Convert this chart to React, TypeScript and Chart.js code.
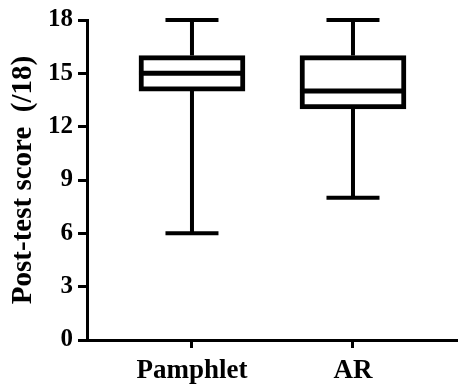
import React, { useEffect, useRef } from 'react';
import { Chart, registerables } from 'chart.js';

Chart.register(...registerables);

const categories = ['Pamphlet', 'AR'];
const minValues = [6, 8];
const q1Values = [14, 13];
const medianValues = [15, 14];
const q3Values = [16, 16];
const maxValues = [18, 18];
const yTickValues = [0, 3, 6, 9, 12, 15, 18];
const yTitle = 'Post-test score  (/18)';

const FONT = "'Liberation Serif', 'Times New Roman', serif";

const whiskerPlugin = {
  id: 'whiskers',
  afterDatasetsDraw(chart: any) {
    const { ctx } = chart;
    const yScale = chart.scales.y;
    const meta = chart.getDatasetMeta(0);
    ctx.save();
    ctx.strokeStyle = '#000';
    ctx.lineCap = 'butt';
    meta.data.forEach((bar: any, i: number) => {
      const { x, width } = bar.getProps(['x', 'width'], true);
      const yMin = yScale.getPixelForValue(minValues[i]);
      const yMax = yScale.getPixelForValue(maxValues[i]);
      const yQ1 = yScale.getPixelForValue(q1Values[i]);
      const yQ3 = yScale.getPixelForValue(q3Values[i]);
      const yMed = yScale.getPixelForValue(medianValues[i]);
      const cap = width / 4;
      ctx.lineWidth = 4;
      ctx.beginPath();
      ctx.moveTo(x, yQ3);
      ctx.lineTo(x, yMax);
      ctx.moveTo(x - cap, yMax);
      ctx.lineTo(x + cap, yMax);
      ctx.moveTo(x, yQ1);
      ctx.lineTo(x, yMin);
      ctx.moveTo(x - cap, yMin);
      ctx.lineTo(x + cap, yMin);
      ctx.stroke();
      ctx.lineWidth = 5;
      ctx.beginPath();
      ctx.moveTo(x - width / 2, yMed);
      ctx.lineTo(x + width / 2, yMed);
      ctx.stroke();
    });
    ctx.restore();
  },
};

export default function App() {
  const canvasRef = useRef<HTMLCanvasElement | null>(null);

  useEffect(() => {
    if (!canvasRef.current) return;
    const chart = new Chart(canvasRef.current, {
      type: 'bar',
      data: {
        datasets: [
          {
            data: categories.map((_, i) => ({ x: i + 1, y: [q1Values[i], q3Values[i]] })) as any,
            backgroundColor: '#ffffff',
            borderColor: '#000000',
            borderWidth: 5,
            borderSkipped: false,
            barThickness: 106,
          },
        ],
      },
      options: {
        animation: false,
        responsive: false,
        events: [],
        layout: { padding: { top: 17, right: 1, bottom: 0, left: 0 } },
        plugins: {
          legend: { display: false },
          tooltip: { enabled: false },
        },
        scales: {
          x: {
            type: 'linear',
            bounds: 'data',
            offset: false,
            min: 0.348,
            max: 2.646,
            afterBuildTicks: (s: any) => {
              s.ticks = categories.map((_, i) => ({ value: i + 1 }));
            },
            afterFit: (s: any) => {
              s.height = 44;
            },
            ticks: {
              autoSkip: false,
              maxRotation: 0,
              padding: 7,
              color: '#000',
              font: { family: FONT, size: 27, weight: 'bold' },
              callback: (v: any) => categories[Math.round(Number(v)) - 1] ?? '',
            },
            grid: {
              display: true,
              offset: false,
              drawOnChartArea: false,
              drawTicks: true,
              tickLength: 8,
              lineWidth: 3,
              color: '#000',
            },
            border: { display: true, width: 3, color: '#000' },
          },
          y: {
            type: 'linear',
            min: 0,
            max: 18,
            afterBuildTicks: (s: any) => {
              s.ticks = yTickValues.map((v) => ({ value: v }));
            },
            afterFit: (s: any) => {
              s.width = 87;
            },
            ticks: {
              padding: 5,
              color: '#000',
              font: { family: FONT, size: 25, weight: 'bold' },
            },
            grid: {
              display: true,
              drawOnChartArea: false,
              drawTicks: true,
              tickLength: 9,
              lineWidth: 3,
              color: '#000',
            },
            border: { display: true, width: 3, color: '#000' },
            title: {
              display: true,
              text: yTitle,
              color: '#000',
              font: { family: FONT, size: 29, weight: 'bold' },
              padding: { top: 6, bottom: 0 },
            },
          },
        },
      } as any,
      plugins: [whiskerPlugin],
    });
    return () => chart.destroy();
  }, []);

  return (
    <div style={{ position: 'absolute', left: 0, top: 0, width: 458, height: 384, background: '#fff' }}>
      <canvas ref={canvasRef} width={458} height={384} />
    </div>
  );
}
